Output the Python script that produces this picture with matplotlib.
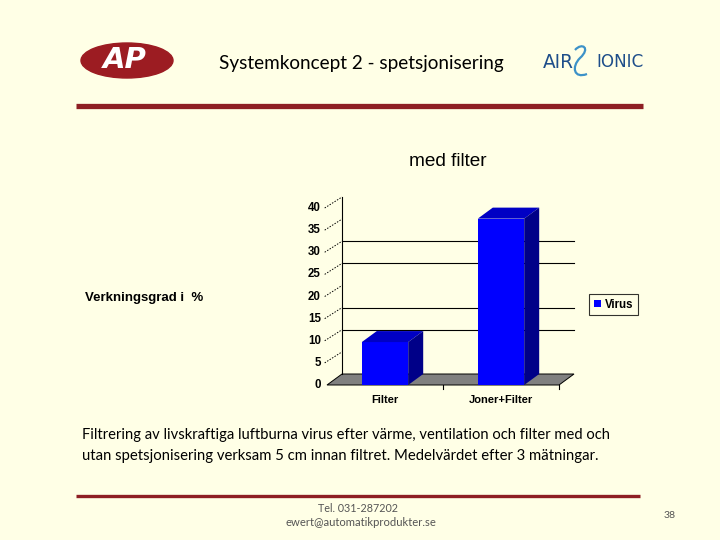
import matplotlib
matplotlib.use("Agg")
import matplotlib.pyplot as plt
from matplotlib.patches import Polygon, Ellipse, PathPatch
from matplotlib.path import Path
import matplotlib.transforms as mtransforms

# ---- data ----
categories = ["Filter", "Joner+Filter"]
virus = [9.7, 37.6]
series_name = "Virus"
y_ticks = [0, 5, 10, 15, 20, 25, 30, 35, 40]
grid_levels = [10, 15, 25, 30]
chart_title = "med filter"
y_label = "Verkningsgrad i  %"
header = "Systemkoncept 2 - spetsjonisering"
desc1 = "Filtrering av livskraftiga luftburna virus efter värme, ventilation och filter med och"
desc2 = "utan spetsjonisering verksam 5 cm innan filtret. Medelvärdet efter 3 mätningar."
footer1 = "Tel. 031-287202"
footer2 = "ewert@automatikprodukter.se"
page_no = "38"

BG = "#FFFFE6"
DARKRED = "#8E1F24"

fig = plt.figure(figsize=(7.2, 5.4), dpi=100, facecolor=BG)
renderer = fig.canvas.get_renderer()

bg = fig.add_axes([0, 0, 1, 1])
bg.set_xlim(0, 720)
bg.set_ylim(540, 0)
bg.axis("off")
bg.set_facecolor("none")


def fit_text(ax, x, y, s, width, fs=10, **kw):
    t = ax.text(x, y, s, fontsize=fs, **kw)
    bb = t.get_window_extent(renderer)
    t.set_fontsize(fs * width / bb.width)
    return t


# ---- header ----
bg.add_patch(Ellipse((127, 60.5), 92, 35, color="#9C1C22", zorder=2))
fit_text(bg, 125, 60, "AP", 44, fs=20, color="white", ha="center", va="center",
         fontweight="heavy", family="DejaVu Sans", style="italic", zorder=3)
fit_text(bg, 361, 63, header, 282, fs=12, ha="center", va="center", family="Lato", color="black")
fit_text(bg, 543, 62, "AIR", 31, fs=11, ha="left", va="center", family="DejaVu Sans", color="#1E4E8A")
fit_text(bg, 596, 62, "IONIC", 47, fs=11, ha="left", va="center", family="DejaVu Sans", color="#1E4E8A")
verts = [(575, 50), (582, 42), (591, 48), (580, 58), (571, 67), (574, 79), (587, 74)]
codes = [Path.MOVETO, Path.CURVE4, Path.CURVE4, Path.CURVE4, Path.CURVE4, Path.CURVE4, Path.CURVE4]
bg.add_patch(PathPatch(Path(verts, codes), fill=False, edgecolor="#3D92C8", lw=1.6))
bg.plot([76, 643], [105.5, 105.5], color=DARKRED, lw=3.8, solid_capstyle="butt")

# ---- side texts ----
fit_text(bg, 448, 162, chart_title, 78, fs=11, ha="center", va="center", family="Liberation Sans")
fit_text(bg, 85, 298, y_label, 120, fs=8, ha="left", va="center", family="Liberation Sans",
         fontweight="bold")
fit_text(bg, 82, 435, desc1, 528, fs=10, ha="left", va="center", family="Lato")
fit_text(bg, 82, 456, desc2, 518, fs=10, ha="left", va="center", family="Lato")

# ---- footer ----
bg.plot([76, 640], [496, 496], color=DARKRED, lw=2.4, solid_capstyle="butt")
fit_text(bg, 358, 508, footer1, 80, fs=8, ha="center", va="center", family="Lato", color="#555555")
fit_text(bg, 361, 522, footer2, 152, fs=8, ha="center", va="center", family="Lato", color="#555555")
fit_text(bg, 670, 515, page_no, 12, fs=8, ha="center", va="center", family="Lato", color="#555555")

# ---- 3D bar chart ----
L, R, B, T = 327, 559, 385, 208
cax = fig.add_axes([L / 720, (540 - B) / 540, (R - L) / 720, (B - T) / 540])
cax.set_xlim(-0.5, len(categories) - 0.5)
cax.set_ylim(0, 40)
cax.axis("off")
cax.set_zorder(2)

px_x = (R - L) / len(categories)      # pixels per category
px_y = (B - T) / 40.0                 # pixels per unit
dx = 15 / px_x
dy = 11 / px_y
w = 0.4
x0, x1 = -0.5, len(categories) - 0.5

# floor
cax.add_patch(Polygon([(x0, 0), (x1, 0), (x1 + dx, dy), (x0 + dx, dy)], closed=True,
                      facecolor="#808080", edgecolor="black", lw=0.7, clip_on=False, zorder=1))
# left wall edge & back gridlines
cax.plot([x0 + dx, x0 + dx], [dy, 40 + dy], color="black", lw=0.8, clip_on=False, zorder=1)
for g in grid_levels:
    cax.plot([x0 + dx, x1 + dx], [g + dy, g + dy], color="black", lw=0.8, clip_on=False, zorder=1)

# tick dashes and labels
for v in y_ticks:
    if v > 0:
        cax.plot([x0 - 0.02, x0 + dx], [v, v + dy], color="black", lw=0.7,
                 linestyle=(0, (1.5, 1.5)), clip_on=False, zorder=1)
    off = mtransforms.offset_copy(cax.transData, fig=fig, x=-6, y=0, units="dots")
    cax.text(x0, v, str(v), transform=off, ha="right", va="center", fontsize=8.3,
             fontweight="bold", family="Liberation Sans")

# category ticks under floor
for xt in [0.5, 1.5]:
    cax.plot([xt, xt], [0, -4 / px_y], color="black", lw=0.8, clip_on=False)

xs = list(range(len(categories)))
bars = cax.bar(xs, virus, width=w, color="#0000FF", zorder=3, clip_on=False, label=series_name)
for x, v in zip(xs, virus):
    a, b = x - w / 2, x + w / 2
    cax.add_patch(Polygon([(a, v), (b, v), (b + dx, v + dy), (a + dx, v + dy)], closed=True,
                          facecolor="#0000C4", edgecolor="none", clip_on=False, zorder=3))
    cax.add_patch(Polygon([(b, 0), (b + dx, dy), (b + dx, v + dy), (b, v)], closed=True,
                          facecolor="#000088", edgecolor="none", clip_on=False, zorder=3))

for x, c in zip(xs, categories):
    off = mtransforms.offset_copy(cax.transData, fig=fig, x=0, y=-15, units="dots")
    cax.text(x, 0, c, transform=off, ha="center", va="center", fontsize=8,
             fontweight="bold", family="Liberation Sans")

leg = fig.legend(handles=[bars], labels=[series_name], loc="upper left",
                 bbox_to_anchor=(589 / 720, 1 - 294 / 540), bbox_transform=fig.transFigure,
                 frameon=True, fancybox=False, edgecolor="black", facecolor=BG,
                 handlelength=0.6, handleheight=0.6, handletextpad=0.4, borderpad=0.4,
                 borderaxespad=0, prop={"family": "Liberation Sans", "weight": "bold", "size": 8.3})
leg.get_frame().set_linewidth(0.8)

fig.savefig("out.png", dpi=100, facecolor=BG)
